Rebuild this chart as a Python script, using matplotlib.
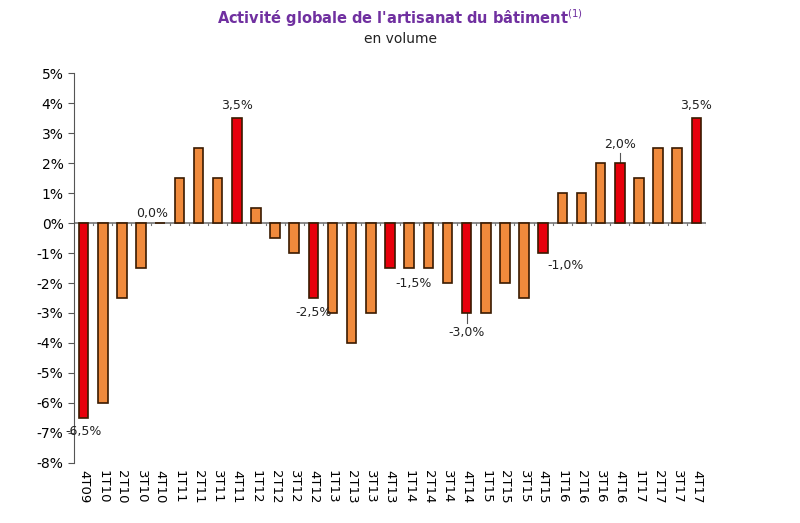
import matplotlib
matplotlib.use("Agg")
import matplotlib.pyplot as plt
from matplotlib.ticker import FuncFormatter

quarters = ["4T09", "1T10", "2T10", "3T10", "4T10", "1T11", "2T11", "3T11", "4T11",
            "1T12", "2T12", "3T12", "4T12", "1T13", "2T13", "3T13", "4T13",
            "1T14", "2T14", "3T14", "4T14", "1T15", "2T15", "3T15", "4T15",
            "1T16", "2T16", "3T16", "4T16", "1T17", "2T17", "3T17", "4T17"]
values = [-6.5, -6.0, -2.5, -1.5, 0.0, 1.5, 2.5, 1.5, 3.5,
          0.5, -0.5, -1.0, -2.5, -3.0, -4.0, -3.0, -1.5,
          -1.5, -1.5, -2.0, -3.0, -3.0, -2.0, -2.5, -1.0,
          1.0, 1.0, 2.0, 2.0, 1.5, 2.5, 2.5, 3.5]

ORANGE = "#f08a3c"
RED = "#e8000b"

fig = plt.figure(figsize=(8, 5.23), dpi=100)
ax = fig.add_axes([0.0925, 0.115, 0.79, 0.745])
colors = [RED if q.startswith("4T") else ORANGE for q in quarters]
x = list(range(len(quarters)))
ax.bar(x, values, width=0.5, color=colors, edgecolor="#3a1a00", linewidth=1.2, zorder=3)

ax.set_xlim(-0.5, len(quarters) - 0.5)
ax.set_ylim(-8, 5)
ax.set_yticks(range(-8, 6))
ax.yaxis.set_major_formatter(FuncFormatter(lambda v, p: f"{int(v)}%"))
ax.tick_params(axis="y", labelsize=10, length=4, color="#555")

# x axis drawn at zero, labels at the bottom
ax.axhline(0, color="#777", lw=1.2, zorder=2)
ax.set_xticks([])
for i in x:
    ax.plot([i + 0.5, i + 0.5], [0, -0.08], color="#777", lw=0.8, zorder=2)
    ax.text(i, -8.25, quarters[i], rotation=270, ha="center", va="top", fontsize=9.5)

for s in ["top", "right", "bottom"]:
    ax.spines[s].set_visible(False)
ax.spines["left"].set_color("#555")

lab = dict(fontsize=9, color="#222", zorder=4)
fmt = lambda v: f"{v:.1f}%".replace(".", ",")
ax.text(0, -6.75, fmt(values[0]), ha="center", va="top", **lab)
ax.text(3.6, 0.1, fmt(values[4]), ha="center", va="bottom", **lab)
ax.text(8, 3.7, fmt(values[8]), ha="center", va="bottom", **lab)
ax.text(12, -2.75, fmt(values[12]), ha="center", va="top", **lab)
ax.text(16.3, -2.0, fmt(values[16]), ha="left", va="center", **lab)
ax.plot([20, 20], [-3.0, -3.35], color="#555", lw=0.8)
ax.text(20, -3.45, fmt(values[20]), ha="center", va="top", **lab)
ax.text(24.2, -1.4, fmt(values[24]), ha="left", va="center", **lab)
ax.plot([28, 28], [2.0, 2.35], color="#555", lw=0.8)
ax.text(28, 2.4, fmt(values[28]), ha="center", va="bottom", **lab)
ax.text(32, 3.7, fmt(values[32]), ha="center", va="bottom", **lab)

fig.text(0.5, 0.965, "Activité globale de l'artisanat du bâtiment$^{(1)}$", ha="center",
         va="center", fontsize=10.5, fontweight="bold", color="#7030a0")
fig.text(0.5, 0.925, "en volume", ha="center", va="center", fontsize=10, color="#222")

fig.savefig("out.png", dpi=100)
